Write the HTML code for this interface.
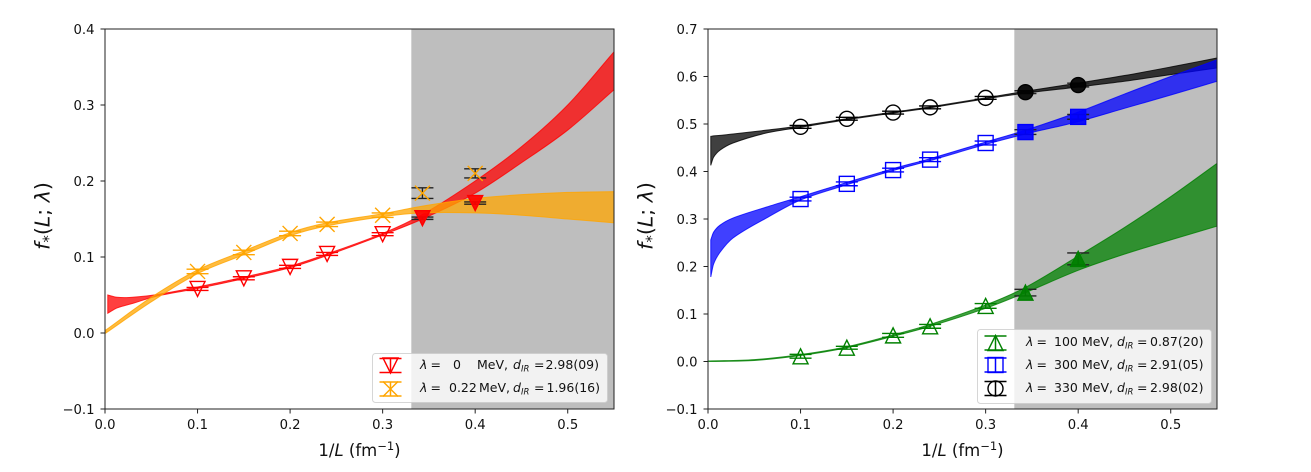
<!DOCTYPE html>
<html><head><meta charset="utf-8"><title>f*(L;λ) chart</title>
<style>
html,body{margin:0;padding:0;background:#fff;width:1311px;height:472px;overflow:hidden}
svg{display:block;filter:blur(0.3px)}
text{font-family:"DejaVu Sans","Liberation Sans",sans-serif;fill:#111}
</style></head><body>
<svg id="chart" xmlns="http://www.w3.org/2000/svg" width="1311" height="472" viewBox="0 0 1311 472"></svg>
<script>
const xTicks=[0,0.1,0.2,0.3,0.4,0.5];
const leftYTicks=[-0.1,0,0.1,0.2,0.3,0.4];
const rightYTicks=[-0.1,0,0.1,0.2,0.3,0.4,0.5,0.6,0.7];
const pointX=[0.1,0.15,0.2,0.24,0.3,0.343,0.4];

const redBandX=[0.003,0.013,0.03,0.056,0.1,0.15,0.2,0.24,0.3,0.343,0.4,0.45,0.5,0.55];
const redUpper=[0.05,0.047,0.047,0.0505,0.0605,0.0735,0.088,0.104,0.131,0.156,0.2,0.245,0.3,0.37];
const redLower=[0.026,0.033,0.039,0.0485,0.0585,0.0715,0.086,0.102,0.129,0.15,0.184,0.224,0.267,0.32];
const redValues=[0.058,0.072,0.087,0.104,0.13,0.151,0.171];
const redErrors=[0.002,0.002,0.002,0.002,0.002,0.0015,0.0015];

const orangeBandX=[0.001,0.05,0.1,0.15,0.2,0.24,0.3,0.343,0.4,0.45,0.5,0.55];
const orangeUpper=[0.004,0.047,0.083,0.108,0.132,0.145,0.157,0.167,0.177,0.182,0.185,0.186];
const orangeLower=[0,0.041,0.078,0.103,0.128,0.141,0.153,0.158,0.158,0.155,0.15,0.145];
const orangeValues=[0.081,0.106,0.131,0.143,0.155,0.184,0.21];
const orangeErrors=[0.003,0.003,0.003,0.003,0.003,0.007,0.006];

const blackBandX=[0.003,0.006,0.013,0.027,0.063,0.1,0.15,0.2,0.24,0.3,0.343,0.4,0.45,0.5,0.55];
const blackUpper=[0.474,0.475,0.476,0.479,0.487,0.496,0.511,0.525,0.536,0.555,0.569,0.586,0.602,0.62,0.639];
const blackLower=[0.413,0.43,0.445,0.46,0.481,0.493,0.509,0.523,0.534,0.553,0.565,0.578,0.59,0.604,0.618];
const blackValues=[0.494,0.511,0.524,0.535,0.555,0.567,0.582];
const blackErrors=[0.003,0.003,0.003,0.003,0.003,0.003,0.004];

const blueBandX=[0.003,0.006,0.013,0.027,0.063,0.1,0.15,0.2,0.24,0.3,0.343,0.4,0.45,0.5,0.55];
const blueUpper=[0.256,0.272,0.287,0.302,0.325,0.347,0.377,0.406,0.427,0.462,0.487,0.525,0.563,0.6,0.635];
const blueLower=[0.178,0.205,0.23,0.26,0.302,0.34,0.372,0.402,0.423,0.457,0.479,0.505,0.533,0.561,0.59];
const blueValues=[0.342,0.374,0.403,0.425,0.46,0.483,0.515];
const blueErrors=[0.004,0.004,0.004,0.004,0.004,0.005,0.005];

const greenBandX=[0.001,0.05,0.1,0.15,0.2,0.24,0.3,0.343,0.4,0.45,0.5,0.55];
const greenUpper=[0.001,0.004,0.0145,0.031,0.056,0.078,0.119,0.156,0.222,0.282,0.347,0.417];
const greenLower=[0,0.002,0.0125,0.029,0.053,0.074,0.112,0.145,0.192,0.226,0.256,0.285];
const greenValues=[0.011,0.029,0.055,0.074,0.117,0.145,0.216];
const greenErrors=[0.004,0.003,0.004,0.004,0.005,0.007,0.0125];

const NS='http://www.w3.org/2000/svg';
const root=document.getElementById('chart');
function mk(parent,tag,attrs,txt){
  const el=document.createElementNS(NS,tag);
  for(const k in attrs) el.setAttribute(k,attrs[k]);
  if(txt!==undefined) el.textContent=txt;
  parent.appendChild(el);
  return el;
}
function smooth(pts,first){
  let d=(first?'M':'L')+pts[0][0].toFixed(2)+' '+pts[0][1].toFixed(2);
  for(let i=0;i<pts.length-1;i++){
    const a=pts[Math.max(i-1,0)],b=pts[i],c=pts[i+1],e=pts[Math.min(i+2,pts.length-1)];
    const h=c[0]-b[0];
    const s1=(c[1]-a[1])/(c[0]-a[0]);
    const s2=(e[1]-b[1])/(e[0]-b[0]);
    const c1=[b[0]+h/3,b[1]+s1*h/3];
    const c2=[c[0]-h/3,c[1]-s2*h/3];
    d+='C'+c1[0].toFixed(2)+' '+c1[1].toFixed(2)+' '+c2[0].toFixed(2)+' '+c2[1].toFixed(2)+' '+c[0].toFixed(2)+' '+c[1].toFixed(2);
  }
  return d;
}
function panel(name,left,yMin,yMax,yTicks){
  const W=509,top=29,bottom=409;
  const p={name:name,left:left,top:top,bottom:bottom,W:W};
  p.x=v=>left+v/0.55*W;
  p.y=v=>bottom-(v-yMin)/(yMax-yMin)*(bottom-top);
  p.g=mk(root,'g',{});
  
  
  const span=mk(p.g,'rect',{x:p.x(0.331),y:top,width:p.x(0.55)-p.x(0.331),height:bottom-top,fill:'#bebebe'});
  
  
  p.yTicks=yTicks;
  return p;
}
function band(p,name,xs,up,lo,color){
  const U=xs.map((v,i)=>[p.x(v),p.y(up[i])]);
  const L=xs.map((v,i)=>[p.x(v),p.y(lo[i])]).reverse();
  const el=mk(p.g,'path',{d:smooth(U,true)+smooth(L,false)+'Z',fill:color,'fill-opacity':0.75,stroke:color,'stroke-opacity':0.8,'stroke-width':1});
  
  
}
function marker(g,kind,cx,cy,color,filled){
  const r=7.5;
  const fill=filled?color:'none';
  const base={fill:fill,'fill-opacity':0.92,stroke:color,'stroke-width':1.4};
  if(kind==='down') mk(g,'polygon',Object.assign({points:(cx-r)+','+(cy-r)+' '+(cx+r)+','+(cy-r)+' '+cx+','+(cy+r)},base));
  if(kind==='up') mk(g,'polygon',Object.assign({points:(cx-r)+','+(cy+r)+' '+(cx+r)+','+(cy+r)+' '+cx+','+(cy-r)},base));
  if(kind==='square') mk(g,'rect',Object.assign({x:cx-r,y:cy-r,width:2*r,height:2*r},base));
  if(kind==='circle') mk(g,'circle',Object.assign({cx:cx,cy:cy,r:r},base));
  if(kind==='x'){
    mk(g,'line',{x1:cx-r,y1:cy-r,x2:cx+r,y2:cy+r,stroke:color,'stroke-width':1.4});
    mk(g,'line',{x1:cx-r,y1:cy+r,x2:cx+r,y2:cy-r,stroke:color,'stroke-width':1.4});
  }
}
function errbar(g,cx,y1,y2,color,lw){
  mk(g,'line',{x1:cx,x2:cx,y1:y1,y2:y2,stroke:color,'stroke-width':lw});
  mk(g,'line',{x1:cx-11,x2:cx+11,y1:y1,y2:y1,stroke:color,'stroke-width':lw});
  mk(g,'line',{x1:cx-11,x2:cx+11,y1:y2,y2:y2,stroke:color,'stroke-width':lw});
}
function points(p,name,vals,errs,kind,color){
  vals.forEach((v,i)=>{
    const g=mk(p.g,'g',{});
    
    
    const cx=p.x(pointX[i]);
    const shaded=pointX[i]>0.33;
    errbar(g,cx,p.y(v-errs[i]),p.y(v+errs[i]),shaded?'#222':color,1.4);
    marker(g,kind,cx,p.y(v),color,shaded&&kind!=='x');
  });
}
function frame(p,ylabX){
  const f=mk(p.g,'rect',{x:p.left,y:p.top,width:p.W,height:p.bottom-p.top,fill:'none',stroke:'#222','stroke-width':1});
  
  
  xTicks.forEach(v=>{
    const X=p.x(v);
    const t=mk(p.g,'line',{x1:X,x2:X,y1:p.bottom,y2:p.bottom+4.5,stroke:'#222','stroke-width':1});
    
    
    const l=mk(p.g,'text',{x:X,y:429,'text-anchor':'middle','font-size':13.2},v.toFixed(1));
    
    
  });
  p.yTicks.forEach(v=>{
    const Y=p.y(v);
    const t=mk(p.g,'line',{x1:p.left-4.5,x2:p.left,y1:Y,y2:Y,stroke:'#222','stroke-width':1});
    
    
    const l=mk(p.g,'text',{x:p.left-10.5,y:Y+4.8,'text-anchor':'end','font-size':13.2},(v<0?'\u2212':'')+Math.abs(v).toFixed(1));
    
    
  });
  const xl=mk(p.g,'text',{x:p.x(0.275),y:456,'text-anchor':'middle','font-size':16.5});
  
  
  mk(xl,'tspan',{},'1/');
  mk(xl,'tspan',{'font-style':'italic'},'L');
  mk(xl,'tspan',{},' (fm');
  mk(xl,'tspan',{'font-size':11.5,dy:-6},'\u22121');
  mk(xl,'tspan',{dy:6},')');
  const yl=mk(p.g,'text',{transform:'translate('+ylabX+',216) rotate(-90)','text-anchor':'middle','font-size':20.5});
  
  
  mk(yl,'tspan',{'font-style':'italic'},'f');
  mk(yl,'tspan',{'font-size':15,dy:4},'*');
  mk(yl,'tspan',{dy:-4},'(');
  mk(yl,'tspan',{'font-style':'italic'},'L');
  mk(yl,'tspan',{},'; ');
  mk(yl,'tspan',{'font-style':'italic'},'\u03bb');
  mk(yl,'tspan',{},')');
}
function legendBox(p,x,y,w,h){
  const b=mk(p.g,'rect',{x:x,y:y,width:w,height:h,rx:3,fill:'#fff','fill-opacity':0.8,stroke:'#ccc','stroke-opacity':0.8,'stroke-width':1});
  
  
}
function legendRow(p,name,kind,color,hx,cy,tx,base,lam,lamX,mevX,dX,eqX,valX,val){
  const g=mk(p.g,'g',{});
  
  
  errbar(g,hx,cy+7,cy-7,color,1.5);
  marker(g,kind,hx,cy,color,false);
  const fs=12.5;
  mk(g,'text',{x:tx,y:base,'font-size':fs,'font-style':'italic'},'\u03bb');
  mk(g,'text',{x:tx+10.5,y:base,'font-size':fs},'=');
  mk(g,'text',{x:lamX,y:base,'font-size':fs},lam);
  mk(g,'text',{x:mevX,y:base,'font-size':fs},'MeV,');
  const d=mk(g,'text',{x:dX,y:base,'font-size':fs,'font-style':'italic'});
  mk(d,'tspan',{},'d');
  mk(d,'tspan',{'font-size':8.5,dy:2.5},'IR');
  mk(g,'text',{x:eqX,y:base,'font-size':fs},'=');
  mk(g,'text',{x:valX,y:base,'font-size':fs},val);
}

const L=panel('left',105,-0.1,0.4,leftYTicks);
band(L,'red',redBandX,redUpper,redLower,'#f00');
band(L,'orange',orangeBandX,orangeUpper,orangeLower,'#ffa500');
points(L,'red',redValues,redErrors,'down','#f00');
points(L,'orange',orangeValues,orangeErrors,'x','#ffa500');
frame(L,49.5);
legendBox(L,372.5,353.5,235,49);
legendRow(L,'lambda-0','down','#f00',390.5,365.5,420,369,'0',453,477,513,534,545.5,'2.98(09)');
legendRow(L,'lambda-0.22','x','#ffa500',390.5,389,420,392,'0.22',449,479,513,534,546.5,'1.96(16)');

const R=panel('right',708,-0.1,0.7,rightYTicks);
band(R,'black',blackBandX,blackUpper,blackLower,'#000');
band(R,'blue',blueBandX,blueUpper,blueLower,'#00f');
band(R,'green',greenBandX,greenUpper,greenLower,'#008000');
points(R,'green',greenValues,greenErrors,'up','#008000');
points(R,'blue',blueValues,blueErrors,'square','#00f');
points(R,'black',blackValues,blackErrors,'circle','#000');
frame(R,652.5);
legendBox(R,977.5,329.5,234,74);
legendRow(R,'lambda-100','up','#008000',995.5,343,1026,346,'100',1054,1082,1117,1137,1150,'0.87(20)');
legendRow(R,'lambda-300','square','#00f',995.5,365,1026,369,'300',1054,1082,1117,1137,1150,'2.91(05)');
legendRow(R,'lambda-330','circle','#000',995.5,388.5,1026,392,'330',1054,1082,1117,1137,1150,'2.98(02)');
</script>
</body></html>
